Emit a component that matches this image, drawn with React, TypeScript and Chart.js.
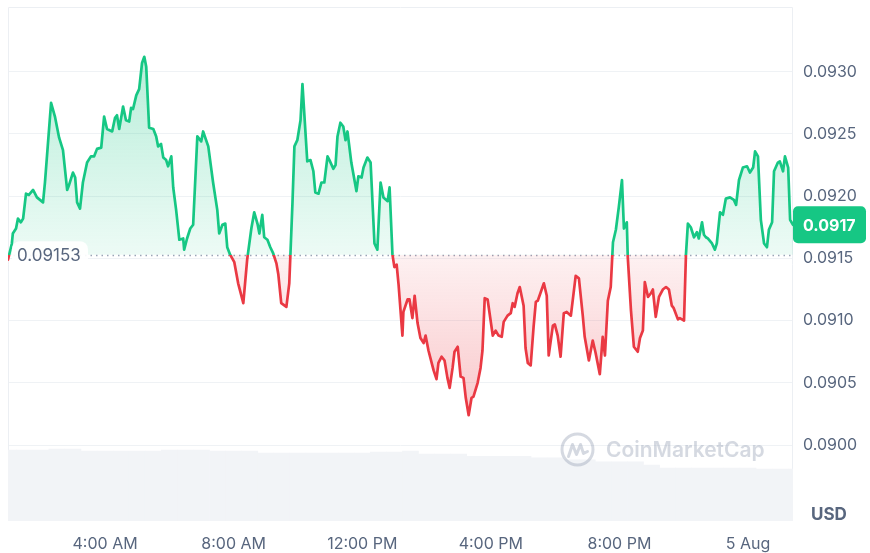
import { useEffect, useRef } from "react";
import { Chart, registerables } from "chart.js";

Chart.register(...registerables);

// time of day in hours (24 = midnight, 5 Aug)
const hours = [
  0.98, 1.1, 1.13, 1.23, 1.29, 1.38, 1.45, 1.54, 1.63, 1.76, 1.88, 2.07, 2.13, 2.32, 2.44, 2.57, 2.69, 2.82, 2.88, 3.0,
  3.07, 3.13, 3.22, 3.31, 3.44, 3.56, 3.66, 3.75, 3.88, 3.97, 4.06, 4.22, 4.31, 4.37, 4.44, 4.56, 4.65, 4.75, 4.81, 4.87,
  4.97, 5.06, 5.15, 5.22, 5.28, 5.37, 5.5, 5.59, 5.65, 5.74, 5.81, 5.9, 5.96, 6.06, 6.12, 6.21, 6.31, 6.43, 6.46, 6.55,
  6.65, 6.74, 6.87, 6.99, 7.05, 7.21, 7.36, 7.49, 7.55, 7.65, 7.74, 7.8, 7.89, 8.02, 8.14, 8.3, 8.42, 8.55, 8.64, 8.74,
  8.8, 8.89, 8.95, 9.05, 9.14, 9.23, 9.33, 9.39, 9.48, 9.64, 9.73, 9.83, 9.89, 9.98, 10.08, 10.14, 10.29, 10.39, 10.48, 10.54,
  10.64, 10.73, 10.82, 10.92, 10.98, 11.1, 11.17, 11.23, 11.32, 11.41, 11.48, 11.54, 11.66, 11.82, 11.88, 11.98, 12.04, 12.16, 12.26, 12.38,
  12.47, 12.57, 12.66, 12.79, 12.85, 12.94, 13.0, 13.07, 13.13, 13.25, 13.28, 13.41, 13.47, 13.56, 13.63, 13.72, 13.81, 13.91, 13.97, 14.06,
  14.22, 14.31, 14.37, 14.47, 14.56, 14.65, 14.72, 14.81, 14.87, 14.97, 15.06, 15.15, 15.22, 15.31, 15.4, 15.46, 15.59, 15.68, 15.74, 15.81,
  15.9, 16.06, 16.15, 16.24, 16.34, 16.4, 16.52, 16.62, 16.68, 16.74, 16.83, 16.9, 17.02, 17.08, 17.15, 17.24, 17.33, 17.4, 17.46, 17.65,
  17.74, 17.8, 17.93, 17.99, 18.08, 18.17, 18.27, 18.36, 18.49, 18.64, 18.74, 18.86, 18.92, 19.05, 19.17, 19.26, 19.39, 19.48, 19.55, 19.64,
  19.73, 19.8, 19.89, 19.98, 20.08, 20.14, 20.23, 20.26, 20.36, 20.45, 20.57, 20.64, 20.73, 20.79, 20.89, 20.98, 21.04, 21.13, 21.23, 21.35,
  21.45, 21.54, 21.63, 21.69, 21.82, 21.88, 22.01, 22.07, 22.13, 22.22, 22.32, 22.41, 22.47, 22.57, 22.63, 22.69, 22.75, 22.88, 22.97, 23.03,
  23.13, 23.22, 23.31, 23.44, 23.56, 23.63, 23.72, 23.84, 23.97, 24.06, 24.16, 24.22, 24.31, 24.4, 24.5, 24.59, 24.65, 24.75, 24.81, 24.93,
  24.99, 25.09, 25.15, 25.25, 25.31, 25.4,
];

const prices = [
  0.09149, 0.09162, 0.0917, 0.09174, 0.09182, 0.09179, 0.09182, 0.09202, 0.09201, 0.09205, 0.09199, 0.09195, 0.09211, 0.09275, 0.09264, 0.09247, 0.09237, 0.09205, 0.09209, 0.09219,
  0.09215, 0.09195, 0.0919, 0.09211, 0.09227, 0.09232, 0.09232, 0.09238, 0.09239, 0.09264, 0.09254, 0.09252, 0.09263, 0.09265, 0.09254, 0.09272, 0.09261, 0.0926, 0.09271, 0.0927,
  0.09281, 0.09286, 0.09307, 0.09312, 0.09304, 0.09255, 0.09254, 0.09248, 0.0924, 0.09242, 0.09231, 0.09229, 0.09224, 0.09232, 0.09207, 0.09189, 0.09165, 0.09166, 0.09157, 0.09166,
  0.09174, 0.09177, 0.09248, 0.09244, 0.09252, 0.0924, 0.09211, 0.09189, 0.0917, 0.09177, 0.09178, 0.09159, 0.09153, 0.09147, 0.0913, 0.09114, 0.09149, 0.09174, 0.09187, 0.09178,
  0.0917, 0.09185, 0.09167, 0.09165, 0.09159, 0.09154, 0.09146, 0.09137, 0.09114, 0.09111, 0.0913, 0.09195, 0.0924, 0.09245, 0.09261, 0.0929, 0.09228, 0.09229, 0.0922, 0.09203,
  0.09202, 0.09211, 0.09211, 0.09232, 0.09229, 0.09222, 0.09225, 0.09248, 0.09259, 0.09256, 0.09245, 0.09252, 0.09227, 0.09204, 0.09216, 0.09215, 0.09223, 0.09231, 0.09227, 0.09162,
  0.09157, 0.09211, 0.09199, 0.09196, 0.09207, 0.09153, 0.09143, 0.09145, 0.09129, 0.09088, 0.09107, 0.09117, 0.09117, 0.09102, 0.0912, 0.09098, 0.09086, 0.09082, 0.09088, 0.09076,
  0.0906, 0.09053, 0.09066, 0.09071, 0.09068, 0.09054, 0.09046, 0.09062, 0.09075, 0.09079, 0.09055, 0.09054, 0.09038, 0.09024, 0.09038, 0.09039, 0.0905, 0.09062, 0.09076, 0.09118,
  0.09117, 0.09088, 0.09092, 0.09088, 0.09087, 0.09099, 0.09104, 0.09106, 0.09114, 0.09111, 0.09122, 0.09127, 0.09112, 0.09078, 0.09066, 0.09064, 0.09095, 0.09115, 0.09116, 0.0913,
  0.0912, 0.09072, 0.09096, 0.09097, 0.09088, 0.09071, 0.09106, 0.09107, 0.09104, 0.09136, 0.09134, 0.09104, 0.09087, 0.09068, 0.09084, 0.09074, 0.09057, 0.09087, 0.09072, 0.09116,
  0.09127, 0.09163, 0.09173, 0.09191, 0.09213, 0.09174, 0.09179, 0.09151, 0.09108, 0.09079, 0.09075, 0.09086, 0.09092, 0.09131, 0.09119, 0.09122, 0.09125, 0.09103, 0.09119, 0.09125,
  0.09127, 0.09125, 0.09112, 0.0911, 0.09101, 0.09102, 0.091, 0.09153, 0.09178, 0.09175, 0.09167, 0.09171, 0.09166, 0.09179, 0.09169, 0.09167, 0.09166, 0.09162, 0.09157, 0.09162,
  0.09187, 0.09185, 0.09198, 0.09199, 0.09197, 0.09193, 0.09213, 0.09223, 0.09224, 0.09219, 0.09223, 0.09236, 0.09232, 0.09181, 0.09162, 0.09159, 0.09173, 0.09179, 0.0922, 0.09227,
  0.09228, 0.0922, 0.09232, 0.09223, 0.09181, 0.09177,
];

// 24h volume bars (relative units), one per half hour
const volHours = [
  1.0, 1.5, 2.0, 2.5, 3.0, 3.5, 4.0, 4.5, 5.0, 5.5, 6.0, 6.5, 7.0, 7.5, 8.0, 8.5, 9.0, 9.5, 10.0, 10.5, 11.0, 11.5, 12.0, 12.5, 13.0,
  13.5, 14.0, 14.5, 15.0, 15.5, 16.0, 16.5, 17.0, 17.5, 18.0, 18.5, 19.0, 19.5, 20.0, 20.5, 21.0, 21.5, 22.0, 22.5, 23.0, 23.5, 24.0, 24.5, 25.0, 25.5,
];
const volumes = [
  13.8, 13.8, 13.8, 14.0, 14.0, 13.6, 13.6, 13.6, 13.6, 13.6, 13.8, 13.8, 13.8, 13.6, 13.6, 13.6, 13.2, 13.2, 13.2, 13.2, 13.2, 13.2, 13.2, 13.4, 13.4,
  13.6, 13.0, 13.0, 13.0, 12.6, 12.6, 12.6, 12.6, 12.3, 12.3, 11.9, 11.9, 11.5, 11.5, 11.5, 10.9, 10.3, 10.3, 10.3, 10.3, 10.3, 10.3, 10.1, 10.1, 10.1,
];

const openPrice = 0.09153;
const openLabel = "0.09153";
const lastLabel = "0.0917";
const xTickHours = [4, 8, 12, 16, 20, 24];
const xTickLabels = ["4:00 AM", "8:00 AM", "12:00 PM", "4:00 PM", "8:00 PM", "5 Aug"];
const yTicks = [0.09, 0.0905, 0.091, 0.0915, 0.092, 0.0925, 0.093];

const GREEN = "#16c784";
const RED = "#ea3943";
const GREY = "#58667e";
const FONT = "Inter, 'Noto Sans', sans-serif";

const lineGradient = (c: any) => {
  const chart = c.chart;
  const area = chart.chartArea;
  if (!area) return GREEN;
  const yb = chart.scales.y.getPixelForValue(openPrice);
  const f = Math.min(Math.max((yb - area.top) / (area.bottom - area.top), 0), 1);
  const g = chart.ctx.createLinearGradient(0, area.top, 0, area.bottom);
  g.addColorStop(0, GREEN);
  g.addColorStop(f, GREEN);
  g.addColorStop(f, RED);
  g.addColorStop(1, RED);
  return g;
};

const fillGradient = (c: any) => {
  const chart = c.chart;
  const area = chart.chartArea;
  if (!area) return "rgba(22,199,132,0.15)";
  const yb = chart.scales.y.getPixelForValue(openPrice);
  const f = Math.min(Math.max((yb - area.top) / (area.bottom - area.top), 0), 1);
  const g = chart.ctx.createLinearGradient(0, area.top, 0, area.bottom);
  g.addColorStop(0, "rgba(22,199,132,0.36)");
  g.addColorStop(f, "rgba(22,199,132,0.08)");
  g.addColorStop(f, "rgba(234,57,67,0.07)");
  g.addColorStop(Math.min(f + 0.3, 1), "rgba(234,57,67,0.27)");
  g.addColorStop(1, "rgba(234,57,67,0.27)");
  return g;
};

const roundRect = (ctx: CanvasRenderingContext2D, x: number, y: number, w: number, h: number, r: number) => {
  ctx.beginPath();
  ctx.moveTo(x + r, y);
  ctx.arcTo(x + w, y, x + w, y + h, r);
  ctx.arcTo(x + w, y + h, x, y + h, r);
  ctx.arcTo(x, y + h, x, y, r);
  ctx.arcTo(x, y, x + w, y, r);
  ctx.closePath();
};

const extrasPlugin = {
  id: "extras",
  beforeDatasetsDraw(chart: any) {
    const { ctx, chartArea: a, scales } = chart;
    ctx.save();
    // frame
    ctx.strokeStyle = "#eceff3";
    ctx.lineWidth = 1;
    ctx.beginPath();
    ctx.moveTo(a.left + 0.5, a.bottom);
    ctx.lineTo(a.left + 0.5, a.top + 0.5);
    ctx.lineTo(a.right - 0.5, a.top + 0.5);
    ctx.lineTo(a.right - 0.5, a.bottom);
    ctx.stroke();
    // dotted open price line
    const yb = Math.round(scales.y.getPixelForValue(openPrice)) + 0.5;
    ctx.setLineDash([1.5, 4]);
    ctx.strokeStyle = "#9aa4b6";
    ctx.lineWidth = 1.5;
    ctx.beginPath();
    ctx.moveTo(a.left, yb);
    ctx.lineTo(a.right, yb);
    ctx.stroke();
    ctx.restore();
  },
  afterDatasetsDraw(chart: any) {
    const { ctx, chartArea: a, scales } = chart;
    ctx.save();
    // watermark
    const cx = 577.5;
    const cy = 449.5;
    ctx.strokeStyle = "rgba(150,160,180,0.4)";
    ctx.lineWidth = 3;
    ctx.lineJoin = "round";
    ctx.lineCap = "round";
    ctx.beginPath();
    ctx.arc(cx, cy, 15.5, 0, Math.PI * 2);
    ctx.stroke();
    ctx.beginPath();
    ctx.moveTo(cx - 9, cy + 7);
    ctx.lineTo(cx - 5, cy - 5);
    ctx.lineTo(cx - 1, cy + 5);
    ctx.lineTo(cx + 3, cy - 5);
    ctx.lineTo(cx + 6, cy + 4);
    ctx.lineTo(cx + 10, cy + 2);
    ctx.stroke();
    ctx.fillStyle = "rgba(150,160,180,0.4)";
    ctx.font = `600 21px ${FONT}`;
    ctx.textAlign = "left";
    ctx.textBaseline = "middle";
    ctx.fillText("CoinMarketCap", 606, 451);

    // open price label
    const yb = scales.y.getPixelForValue(openPrice);
    ctx.fillStyle = "rgba(255,255,255,0.92)";
    roundRect(ctx, a.left + 4, yb - 13.5, 76, 27, 8);
    ctx.fill();
    ctx.fillStyle = GREY;
    ctx.font = `400 17px ${FONT}`;
    ctx.fillText(openLabel, a.left + 9, yb + 1);

    // last price label
    const ly = scales.y.getPixelForValue(prices[prices.length - 1]);
    ctx.fillStyle = GREEN;
    roundRect(ctx, a.right, ly - 18.5, 73, 37, 5);
    ctx.fill();
    ctx.fillStyle = "#ffffff";
    ctx.font = `700 16px ${FONT}`;
    ctx.fillText(lastLabel, a.right + 10, ly + 1);

    // currency
    ctx.fillStyle = GREY;
    ctx.font = `700 17px ${FONT}`;
    ctx.fillText("USD", a.right + 18, a.bottom - 6);
    ctx.restore();
  },
};

const App = () => {
  const chartRef = useRef<HTMLCanvasElement | null>(null);

  useEffect(() => {
    if (!chartRef.current) return;
    const ctx = chartRef.current.getContext("2d");
    if (!ctx) return;

    const chartInstance = new Chart(ctx, {
      type: "line",
      data: {
        datasets: [
          {
            type: "line",
            data: hours.map((h, i) => ({ x: h, y: prices[i] })),
            yAxisID: "y",
            borderColor: lineGradient,
            backgroundColor: fillGradient,
            borderWidth: 2.7,
            borderJoinStyle: "round",
            borderCapStyle: "round",
            pointRadius: 0,
            tension: 0,
            fill: { value: openPrice },
            order: 0,
          },
          {
            type: "bar",
            data: volHours.map((h, i) => ({ x: h, y: volumes[i] })) as any,
            yAxisID: "yVol",
            backgroundColor: "#f2f4f7",
            borderWidth: 0,
            barPercentage: 1,
            categoryPercentage: 1,
            order: 1,
          } as any,
        ],
      },
      options: {
        animation: false,
        responsive: true,
        maintainAspectRatio: false,
        layout: { padding: { left: 8, top: 7, right: 0, bottom: 0 } },
        plugins: {
          legend: { display: false },
          tooltip: { enabled: false },
        },
        scales: {
          x: {
            type: "linear",
            offset: false,
            min: hours[0],
            max: hours[hours.length - 1],
            grid: { display: false, drawTicks: false, offset: false },
            border: { display: false },
            afterBuildTicks: (axis: any) => {
              axis.ticks = xTickHours.map((v) => ({ value: v }));
            },
            afterFit: (axis: any) => {
              axis.height = 32;
              axis.paddingLeft = 0;
              axis.paddingRight = 0;
            },
            ticks: {
              autoSkip: false,
              maxRotation: 0,
              padding: 14,
              color: GREY,
              font: { family: FONT, size: 16 },
              callback: (_v: any, i: number) => xTickLabels[i],
            },
          },
          y: {
            position: "right",
            min: 0.08939,
            max: 0.09352,
            grid: { color: "#eff2f5", drawTicks: false },
            border: { display: false },
            afterBuildTicks: (axis: any) => {
              axis.ticks = yTicks.map((v) => ({ value: v }));
            },
            afterFit: (axis: any) => {
              axis.width = 77;
              axis.paddingTop = 0;
              axis.paddingBottom = 0;
            },
            ticks: {
              padding: 10,
              color: GREY,
              font: { family: FONT, size: 16 },
              callback: (v: any) => Number(v).toFixed(4),
            },
          },
          yVol: {
            display: false,
            min: 0,
            max: 100,
          },
        },
      },
      plugins: [extrasPlugin],
    });

    return () => {
      chartInstance.destroy();
    };
  }, []);

  return (
    <div style={{ position: "fixed", left: 0, top: 0, width: 870, height: 553, background: "#fff" }}>
      <canvas ref={chartRef} />
    </div>
  );
};

export default App;
